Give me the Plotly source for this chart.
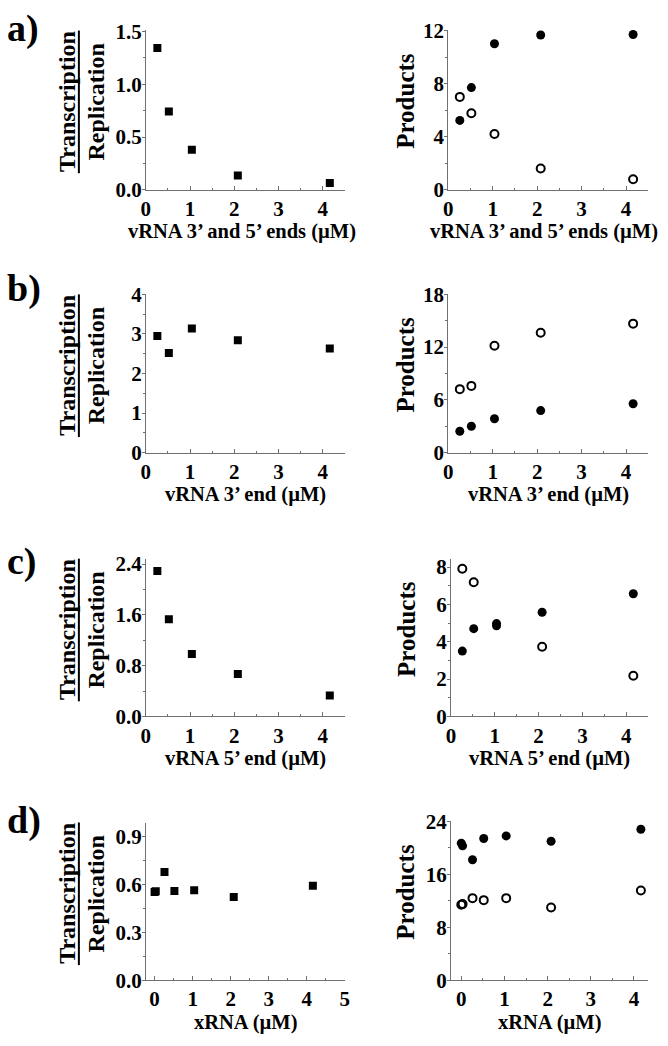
import plotly.graph_objects as go

W, H = 668, 1046
FONT = "Liberation Serif"

# ---------------- data ----------------
x_vrna = [0.26, 0.52, 1.04, 2.08, 4.16]

a_ratio = [1.345, 0.743, 0.38, 0.136, 0.065]
a_filled = [5.23, 7.7, 11.0, 11.66, 11.7]
a_open = [7.0, 5.77, 4.2, 1.6, 0.79]

b_ratio = [2.95, 2.52, 3.14, 2.84, 2.63]
b_filled = [2.44, 3.0, 3.85, 4.78, 5.56]
b_open = [7.22, 7.59, 12.15, 13.63, 14.67]

c_ratio = [2.29, 1.53, 0.985, 0.67, 0.33]
c_filled_x = [0.26, 0.52, 1.04, 1.04, 2.08, 4.16]
c_filled = [3.5, 4.7, 4.85, 4.97, 5.58, 6.57]
c_open_x = [0.26, 0.52, 2.08, 4.16]
c_open = [7.91, 7.18, 3.73, 2.18]

x_xrna = [0.0, 0.03, 0.26, 0.52, 1.04, 2.08, 4.16]
d_ratio = [0.553, 0.558, 0.678, 0.559, 0.565, 0.522, 0.592]
d_filled = [20.7, 20.3, 18.2, 21.4, 21.8, 21.0, 22.8]
d_open = [11.4, 11.5, 12.4, 12.1, 12.4, 11.0, 13.56]

x_titles = ["vRNA 3\u2019 and 5\u2019 ends (\u00b5M)", "vRNA 3\u2019 end (\u00b5M)",
            "vRNA 5\u2019 end (\u00b5M)", "xRNA (\u00b5M)"]
panel_labels = ["a)", "b)", "c)", "d)"]

# ---------------- layout geometry (pixels) ----------------
rows = [
    dict(lt=18, lb=182, rt=18, rb=182, lx=(143, 345), rx=(450, 653)),
    dict(lt=289, lb=451, rt=289, rb=451, lx=(143, 345), rx=(450, 653)),
    dict(lt=560, lb=721, rt=560, rb=721, lx=(143, 345), rx=(452.7, 653)),
    dict(lt=830, lb=991, rt=828, rb=991, lx=(143, 345), rx=(452.7, 653)),
]
left_yr = [[0, 1.519], [0, 4], [0, 2.477], [0, 0.986]]
left_dy = [0.5, 1, 0.8, 0.3]
left_fmt = [".1f", "d", ".1f", ".1f"]
right_yr = [[0, 12.07], [0, 18], [0, 8.42], [0, 24.05]]
right_dy = [4, 6, 2, 8]
left_xr = [[0, 4.5], [0, 4.5], [0, 4.5], [-0.23, 5.0]]
right_xr = [[0, 4.5], [0, 4.5], [0, 4.5], [-0.24, 4.33]]
label_centers = [17, 283, 562, 827]
xtitle_centers = [(241, 547), None, None, None]

def px(v):
    return v / W

def py(v):
    return 1 - v / H

fig = go.Figure()

ratio_sets = [(x_vrna, a_ratio), (x_vrna, b_ratio), (x_vrna, c_ratio), (x_xrna, d_ratio)]
filled_sets = [(x_vrna, a_filled), (x_vrna, b_filled), (c_filled_x, c_filled), (x_xrna, d_filled)]
open_sets = [(x_vrna, a_open), (x_vrna, b_open), (c_open_x, c_open), (x_xrna, d_open)]

AX = "#707070"
tickfont = dict(family=FONT, size=21, color="black", weight="bold")
axis_common = dict(showgrid=False, zeroline=False, showline=True, linecolor=AX,
                   linewidth=1, tickcolor=AX, tickfont=tickfont)

annotations = []
for i, r in enumerate(rows):
    li = 2 * i + 1
    ri = 2 * i + 2
    fig.add_trace(go.Scatter(x=ratio_sets[i][0], y=ratio_sets[i][1], mode="markers",
                             marker=dict(symbol="square", size=8, color="black"),
                             xaxis=f"x{li}", yaxis=f"y{li}", showlegend=False))
    fig.add_trace(go.Scatter(x=filled_sets[i][0], y=filled_sets[i][1], mode="markers",
                             marker=dict(symbol="circle", size=9, color="black"),
                             xaxis=f"x{ri}", yaxis=f"y{ri}", showlegend=False))
    fig.add_trace(go.Scatter(x=open_sets[i][0], y=open_sets[i][1], mode="markers",
                             marker=dict(symbol="circle-open", size=8, color="black",
                                         line=dict(width=2, color="black")),
                             xaxis=f"x{ri}", yaxis=f"y{ri}", showlegend=False))

    xa = dict(axis_common, domain=[px(r["lx"][0]), px(r["lx"][1])], range=left_xr[i],
              anchor=f"y{li}", dtick=1, tick0=0, ticks="inside", ticklen=4,
              minor=dict(ticks="inside", ticklen=2, dtick=0.5, tick0=0, tickcolor=AX))
    ya = dict(axis_common, domain=[py(r["lb"]), py(r["lt"])], range=left_yr[i],
              anchor=f"x{li}", dtick=left_dy[i], tick0=0, ticks="outside", ticklen=3,
              tickformat=left_fmt[i], ticklabelstandoff=-4,
              minor=dict(ticks="outside", ticklen=2, dtick=left_dy[i] / 2, tick0=0,
                         tickcolor=AX))
    xb = dict(axis_common, domain=[px(r["rx"][0]), px(r["rx"][1])], range=right_xr[i],
              anchor=f"y{ri}", dtick=1, tick0=0, ticks="inside", ticklen=4,
              minor=dict(ticks="inside", ticklen=2, dtick=0.5, tick0=0, tickcolor=AX))
    yb = dict(axis_common, domain=[py(r["rb"]), py(r["rt"])], range=right_yr[i],
              anchor=f"x{ri}", dtick=right_dy[i], tick0=0, ticks="outside", ticklen=3,
              ticklabelstandoff=-4,
              minor=dict(ticks="outside", ticklen=2, dtick=right_dy[i] / 2, tick0=0,
                         tickcolor=AX))
    sfx_l = "" if li == 1 else str(li)
    fig.update_layout(**{f"xaxis{sfx_l}": xa, f"yaxis{sfx_l}": ya,
                         f"xaxis{ri}": xb, f"yaxis{ri}": yb})

    centers = xtitle_centers[i] or ((r["lx"][0] + r["lx"][1]) / 2, (r["rx"][0] + r["rx"][1]) / 2)
    for cx in centers:
        annotations.append(dict(text=f"<b>{x_titles[i]}</b>", xref="paper", yref="paper",
                                x=px(cx), y=py(r["lb"] + 43), xanchor="center",
                                yanchor="middle", showarrow=False,
                                font=dict(family=FONT, size=20.5, color="black")))
    ymid = (r["lt"] + r["lb"]) / 2 - 8
    annotations.append(dict(text="<b>Transcription</b>", xref="paper", yref="paper",
                            x=px(63), y=py(ymid), xanchor="center", yanchor="middle",
                            textangle=-90, showarrow=False,
                            font=dict(family=FONT, size=24, color="black")))
    annotations.append(dict(text="<b>Replication</b>", xref="paper", yref="paper",
                            x=px(92), y=py(ymid), xanchor="center", yanchor="middle",
                            textangle=-90, showarrow=False,
                            font=dict(family=FONT, size=24, color="black")))
    annotations.append(dict(text="<b>Products</b>", xref="paper", yref="paper",
                            x=px(407), y=py((r["rt"] + r["rb"]) / 2 - 9), xanchor="center",
                            yanchor="middle", textangle=-90, showarrow=False,
                            font=dict(family=FONT, size=25, color="black")))
    annotations.append(dict(text=f"<b>{panel_labels[i]}</b>", xref="paper", yref="paper",
                            x=px(0), y=py(label_centers[i]), xanchor="left", yanchor="middle",
                            showarrow=False, font=dict(family=FONT, size=38, color="black")))

shapes = []
for r in rows:
    ymid = (r["lt"] + r["lb"]) / 2 - 8
    shapes.append(dict(type="line", xref="paper", yref="paper",
                       x0=px(75), x1=px(75), y0=py(ymid - 73), y1=py(ymid + 73),
                       line=dict(color="black", width=2)))

fig.update_layout(width=W, height=H, margin=dict(l=0, r=0, t=0, b=0),
                  paper_bgcolor="white", plot_bgcolor="white",
                  annotations=annotations, shapes=shapes, showlegend=False)

fig.write_html("out.html", config={"displayModeBar": False},
               post_script="document.body.style.margin='0px';")
